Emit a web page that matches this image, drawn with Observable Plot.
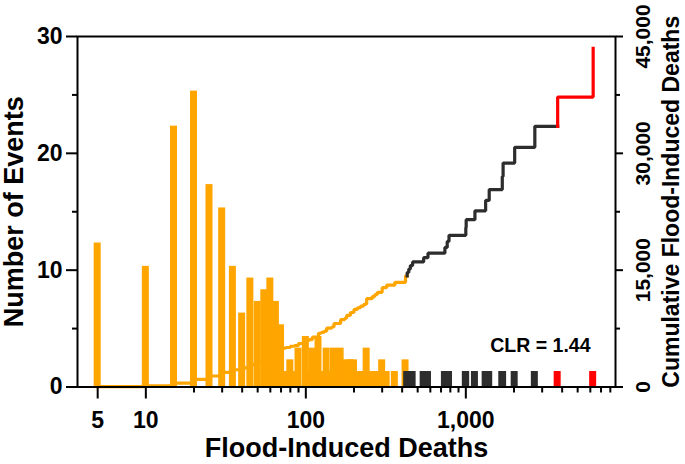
<!DOCTYPE html>
<html><head><meta charset="utf-8">
<script src="https://cdn.jsdelivr.net/npm/d3@7"></script>
<script src="https://cdn.jsdelivr.net/npm/@observablehq/plot@0.6"></script>
<style>body{margin:0;background:#fff}svg{display:block}</style>
</head><body><div id="chart"></div>
<script>
// Orange events: distinct death tolls and number of events with that toll
const smallDeaths = [5,10,15,20,25,30,35,40,45,50,55,60,65,70,75,80,85,90,100,105,110,120,125,130,135,145,150,165,175,180,190,200,210,220,230,240,260,270,280,300,320,360,420];
const smallCounts = [12,10,22,25,17,15,10,6,9,7,8,9,7,5,1,2,1,3,4,1,3,4,1,1,3,1,3,3,1,2,2,2,1,1,1,3,1,1,1,2,1,1,2];
// Large events (dark) and the two largest events (red), one event each
const darkDeaths = [430,440,450,465,545,580,740,765,785,1000,1005,1140,1330,1400,1690,1710,2020,2700];
const redDeaths = [3750,6250];
// Axis ticks
const xMajorTicks = [5,10,100,1000];
const xMinorTicks = [20,30,40,50,60,70,80,90,200,300,400,500,600,700,800,900,2000,3000,4000,5000,6000,7000,8000];
const yMajorTicks = [0,10,20,30];
const yMinorTicks = [5,15,25];
const cumMajorTicks = [0,15000,30000,45000];
const cumMinorTicks = [7500,22500,37500];
const cumPerCount = 1500; // 45,000 cumulative deaths share the height of 30 events

const ORANGE = "#FFA500", DARK = "#2d2d2d", RED = "#FF0000";

const events = [];
smallDeaths.forEach((d,i)=>events.push({deaths:d,count:smallCounts[i],group:"small"}));
darkDeaths.forEach(d=>events.push({deaths:d,count:1,group:"dark"}));
redDeaths.forEach(d=>events.push({deaths:d,count:1,group:"red"}));

let cum = 0;
const steps = events.map(e=>{const y0=cum; cum+=e.deaths*e.count; return {x:e.deaths,y0,y1:cum,group:e.group};});
const linePts = [];
steps.forEach((s,i)=>{
  linePts.push({x:s.x,y:s.y0/cumPerCount,group:s.group});
  linePts.push({x:s.x,y:s.y1/cumPerCount,group:s.group});
  const n = steps[i+1];
  if (n && n.group!==s.group) linePts.push({x:n.x,y:s.y1/cumPerCount,group:s.group});
});

const bar = (group, fill) => Plot.rect(events.filter(e=>e.group===group), {
  x1:"deaths", x2:"deaths", y1:0, y2:"count", fill,
  insetLeft:-3.5, insetRight:-3.5, insetTop:-3.8
});
const line = (group, stroke) => Plot.line(linePts.filter(p=>p.group===group), {
  x:"x", y:"y", stroke, strokeWidth:3.2, strokeLinejoin:"miter", strokeLinecap:"square"
});

const chart = Plot.plot({
  width:685, height:464,
  marginLeft:77, marginRight:70, marginTop:36, marginBottom:77.5,
  style:{fontFamily:"'Liberation Sans', Arial, sans-serif", fontWeight:"bold", fontSize:"23px", color:"#000", background:"#fff"},
  x:{type:"log", domain:[3.74,8620], label:null},
  y:{domain:[0,30], label:null},
  marks:[
    bar("small", ORANGE), bar("dark", DARK), bar("red", RED),
    line("small", ORANGE), line("dark", DARK), line("red", RED),
    Plot.frame({strokeWidth:2}),
    Plot.axisX({ticks:xMajorTicks, tickSize:12, tickFormat:()=>"", strokeWidth:2, label:null}),
    Plot.axisX({ticks:xMinorTicks, tickSize:6, tickFormat:()=>"", strokeWidth:2, label:null}),
    Plot.text(xMajorTicks, {x:d=>d, frameAnchor:"bottom", dy:34, text:d3.format(","), fontSize:23, textAnchor:"middle", lineAnchor:"middle"}),
    Plot.axisY({ticks:yMajorTicks, tickSize:11, tickPadding:4, strokeWidth:2, fontSize:23, label:null}),
    Plot.axisY({ticks:yMinorTicks, tickSize:5, tickFormat:()=>"", strokeWidth:2, label:null}),
    Plot.axisY({anchor:"right", ticks:cumMajorTicks.map(v=>v/cumPerCount), tickSize:7, tickFormat:()=>"", strokeWidth:2, label:null}),
    Plot.axisY({anchor:"right", ticks:cumMinorTicks.map(v=>v/cumPerCount), tickSize:4, tickFormat:()=>"", strokeWidth:2, label:null}),
    Plot.text(cumMajorTicks, {y:d=>d/cumPerCount, frameAnchor:"right", dx:28, rotate:-90, text:d3.format(","), fontSize:21, textAnchor:"middle", lineAnchor:"middle"}),
    Plot.text(["Number of Events"], {frameAnchor:"left", dx:-63, rotate:-90, fontSize:27, textAnchor:"middle", lineAnchor:"middle"}),
    Plot.text(["Cumulative Flood-Induced Deaths"], {frameAnchor:"right", dx:56, dy:-10, rotate:-90, fontSize:23, textAnchor:"middle", lineAnchor:"middle"}),
    Plot.text(["Flood-Induced Deaths"], {frameAnchor:"bottom", dy:61.5, fontSize:27, textAnchor:"middle", lineAnchor:"middle"}),
    Plot.text(["CLR = 1.44"], {frameAnchor:"bottom-right", dx:-25, dy:-41.5, fontSize:19.5, textAnchor:"end", lineAnchor:"middle"})
  ]
});
document.getElementById("chart").appendChild(chart);
</script></body></html>
